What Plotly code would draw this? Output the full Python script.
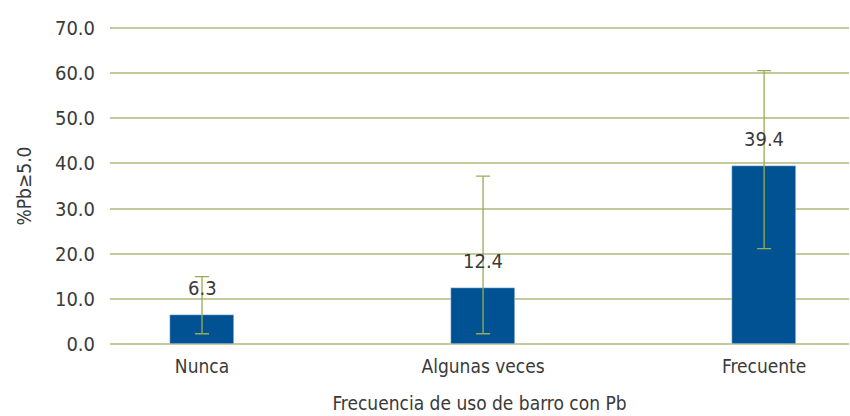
import plotly.graph_objects as go

categories = ["Nunca", "Algunas veces", "Frecuente"]
values = [6.3, 12.4, 39.4]
err_upper = [14.9, 37.2, 60.6]
err_lower = [2.2, 2.2, 21.1]
y_ticks = [0, 10, 20, 30, 40, 50, 60, 70]
y_tick_labels = ["0.0", "10.0", "20.0", "30.0", "40.0", "50.0", "60.0", "70.0"]

FONT = "DejaVu Sans Condensed, Liberation Sans Narrow, Arial Narrow, sans-serif"
TXT = "#3a3a3a"
GRID = "#c3cb9c"
ERR = "#9aab55"
BAR = "#005293"
FS = 19

plus = [u - v for u, v in zip(err_upper, values)]
minus = [v - l for v, l in zip(values, err_lower)]

fig = go.Figure()
fig.add_trace(go.Bar(
    x=categories, y=values, width=0.228, marker_color=BAR,
    error_y=dict(type="data", symmetric=False, array=plus, arrayminus=minus,
                 color=ERR, thickness=1.3, width=7),
    hoverinfo="skip",
))
for c, v in zip(categories, values):
    fig.add_annotation(x=c, y=v, text=f"{v:.1f}", showarrow=False,
                       yshift=27, font=dict(family=FONT, size=FS + 1, color=TXT))

fig.update_layout(
    width=850, height=416, plot_bgcolor="white", paper_bgcolor="white",
    margin=dict(l=110, r=1, t=27, b=71),
    showlegend=False,
    font=dict(family=FONT, size=FS, color=TXT),
    bargap=0,
)
fig.update_xaxes(
    type="category", range=[-0.3274, 2.302], showgrid=False, showline=False,
    ticks="", automargin=False, ticklabelstandoff=8,
    tickfont=dict(family=FONT, size=FS, color=TXT),
    title=dict(text="Frecuencia de uso de barro con Pb", standoff=20,
               font=dict(family=FONT, size=FS, color=TXT)),
)
fig.update_yaxes(
    range=[-0.3, 70.3], tickvals=y_ticks, ticktext=y_tick_labels,
    showgrid=True, gridcolor=GRID, gridwidth=2, zeroline=False,
    showline=False, ticks="", ticklabelstandoff=14, automargin=False,
    tickfont=dict(family=FONT, size=FS + 1, color=TXT),
    title=dict(text="%Pb≥5.0", standoff=18,
               font=dict(family=FONT, size=FS, color=TXT)),
)
fig.write_html("out.html", config={"displayModeBar": False},
               post_script="document.body.style.margin='0';")
